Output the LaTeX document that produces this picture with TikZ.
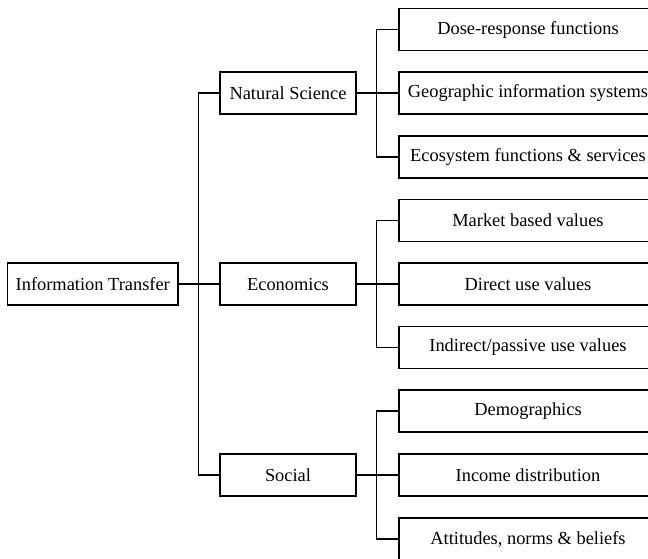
\documentclass[tikz,border=0pt]{standalone}
\usepackage{fontspec}
\setmainfont{Liberation Serif}
\begin{document}
\begin{tikzpicture}[x=1pt,y=-1pt,
  box/.style={draw,line width=1.2pt,minimum height=42pt,inner sep=1pt,anchor=center,font=\fontsize{18.4}{22}\selectfont},
  rootbox/.style={box,minimum width=170.5pt},
  midbox/.style={box,minimum width=136pt},
  leafbox/.style={box,minimum width=258pt},
  link/.style={line width=1.2pt}]
\useasboundingbox (0,0) rectangle (648,558);
\clip (0,0) rectangle (648,558);
\node[rootbox] (root) at (92.75,284) {Information Transfer};
\node[midbox] (ns) at (288,93) {Natural Science};
\node[midbox] (eco) at (288,284) {Economics};
\node[midbox] (soc) at (288,475) {Social};
\node[leafbox] (l1) at (528,29.5) {Dose-response functions};
\node[leafbox] (l2) at (528,93) {Geographic information systems};
\node[leafbox] (l3) at (528,157) {Ecosystem functions \& services};
\node[leafbox] (l4) at (528,220.5) {Market based values};
\node[leafbox] (l5) at (528,284) {Direct use values};
\node[leafbox] (l6) at (528,347.5) {Indirect/passive use values};
\node[leafbox] (l7) at (528,411) {Demographics};
\node[leafbox] (l8) at (528,475) {Income distribution};
\node[leafbox] (l9) at (528,539) {Attitudes, norms \& beliefs};
\draw[link] (root) -- (eco);
\draw[link] (ns.west) -- ++(-21,0) |- (soc.west);
\draw[link] (ns) -- (l2);
\draw[link] (l1.west) -- ++(-22,0) |- (l3.west);
\draw[link] (eco) -- (l5);
\draw[link] (l4.west) -- ++(-22,0) |- (l6.west);
\draw[link] (soc) -- (l8);
\draw[link] (l7.west) -- ++(-22,0) |- (l9.west);
\end{tikzpicture}
\end{document}
